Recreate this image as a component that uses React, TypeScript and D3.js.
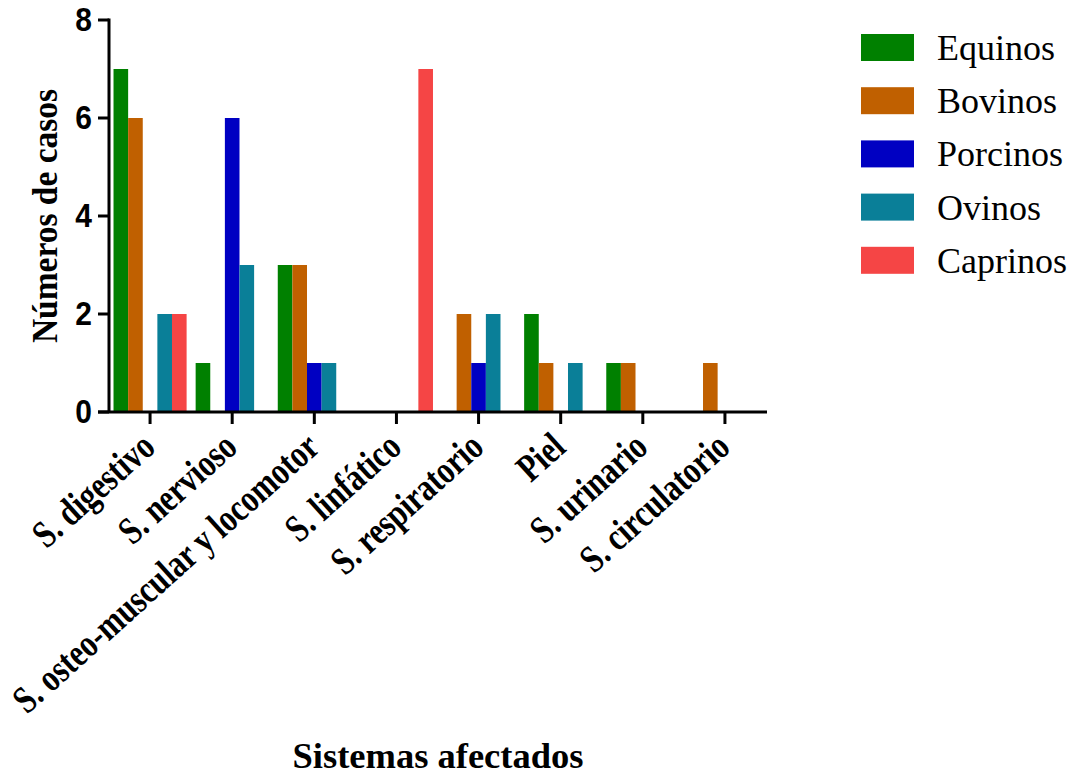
import React from "react";
import * as d3 from "d3";

const categories = [
  "S. digestivo",
  "S. nervioso",
  "S. osteo-muscular y locomotor",
  "S. linfático",
  "S. respiratorio",
  "Piel",
  "S. urinario",
  "S. circulatorio",
];
const seriesNames = ["Equinos", "Bovinos", "Porcinos", "Ovinos", "Caprinos"];
const equinos = [7, 1, 3, 0, 0, 2, 1, 0];
const bovinos = [6, 0, 3, 0, 2, 1, 1, 1];
const porcinos = [0, 6, 1, 0, 1, 0, 0, 0];
const ovinos = [2, 3, 1, 0, 2, 1, 0, 0];
const caprinos = [2, 0, 0, 7, 0, 0, 0, 0];
const seriesValues = [equinos, bovinos, porcinos, ovinos, caprinos];
const colors = ["#008000", "#C06000", "#0000C2", "#0A7F98", "#F54545"];
const yTicks = [0, 2, 4, 6, 8];

export default function App() {
  const W = 1077;
  const H = 776;
  const x0 = d3
    .scaleBand<string>()
    .domain(categories)
    .range([109, 766])
    .paddingInner(0.11)
    .paddingOuter(0.055);
  const x1 = d3
    .scaleBand<string>()
    .domain(seriesNames)
    .range([0, x0.bandwidth()]);
  const y = d3.scaleLinear().domain([0, 8]).range([412, 20]);

  const serif = "'Liberation Serif', 'Times New Roman', serif";
  const sans = "'Liberation Sans', Arial, sans-serif";

  return (
    <svg
      width={W}
      height={H}
      style={{ position: "absolute", left: 0, top: 0, background: "#fff" }}
    >
      {/* bars */}
      {categories.map((c, ci) => (
        <g key={c} transform={`translate(${x0(c)},0)`}>
          {seriesNames.map((s, si) => {
            const v = seriesValues[si][ci];
            if (!v) return null;
            return (
              <rect
                key={s}
                x={x1(s)}
                y={y(v)}
                width={x1.bandwidth()}
                height={y(0) - y(v)}
                fill={colors[si]}
              />
            );
          })}
        </g>
      ))}

      {/* y axis */}
      <line x1={109} x2={109} y1={y(8) - 1.5} y2={y(0)} stroke="#000" strokeWidth={3} />
      {yTicks.map((t) => (
        <g key={t}>
          <line x1={98} x2={109} y1={y(t)} y2={y(t)} stroke="#000" strokeWidth={3} />
          <text
            transform={`translate(92,${y(t) - 1}) scale(1,1.12)`}
            textAnchor="end"
            dominantBaseline="central"
            fontFamily={sans}
            fontWeight="bold"
            fontSize={30}
          >
            {t}
          </text>
        </g>
      ))}

      {/* x axis */}
      <line x1={98} x2={767} y1={y(0)} y2={y(0)} stroke="#000" strokeWidth={3} />
      {categories.map((c) => {
        const cx = (x0(c) as number) + x0.bandwidth() / 2;
        return (
          <g key={c}>
            <line x1={cx} x2={cx} y1={y(0)} y2={y(0) + 12} stroke="#000" strokeWidth={3} />
            <text
              transform={`translate(${cx + 7},${y(0) + 38}) rotate(-42) scale(0.855,1.08)`}
              textAnchor="end"
              fontFamily={serif}
              fontWeight="bold"
              fontSize={36}
            >
              {c}
            </text>
          </g>
        );
      })}

      {/* axis titles */}
      <text
        transform={`translate(57,${(y(0) + y(8)) / 2}) rotate(-90) scale(0.93,1)`}
        textAnchor="middle"
        fontFamily={serif}
        fontWeight="bold"
        fontSize={36}
      >
        Números de casos
      </text>
      <text
        x={438}
        y={768}
        textAnchor="middle"
        fontFamily={serif}
        fontWeight="bold"
        fontSize={36.5}
      >
        Sistemas afectados
      </text>

      {/* legend */}
      {seriesNames.map((s, i) => (
        <g key={s} transform={`translate(861,${34 + i * 53.2})`}>
          <rect width={53} height={27} fill={colors[i]} />
          <text
            x={76}
            y={14}
            dominantBaseline="central"
            fontFamily={serif}
            fontSize={36}
          >
            {s}
          </text>
        </g>
      ))}
    </svg>
  );
}
